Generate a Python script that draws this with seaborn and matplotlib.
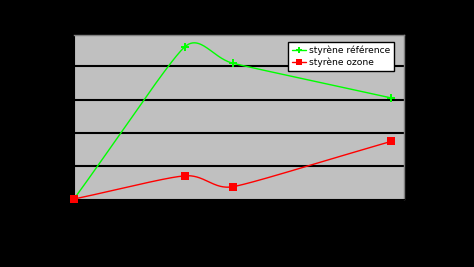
import numpy as np
import pandas as pd
import matplotlib
matplotlib.use("Agg")
import matplotlib.pyplot as plt
import seaborn as sns
from matplotlib.lines import Line2D

# data
temps = [0, 7, 10, 20]
styrene_reference = [0, 46, 41, 30.5]
styrene_ozone = [0, 7, 3.7, 17.4]
series_names = ["styrène référence", "styrène ozone"]

XMAX, YMAX = 20.8, 49.5
W_PX, H_PX = 330, 164


def smooth(xs, ys, n=50, k=0.4):
    # spreadsheet-style smoothed line, computed in screen-proportional space
    sx, sy = W_PX / XMAX, H_PX / YMAX
    P = np.column_stack([np.asarray(xs, float) * sx, np.asarray(ys, float) * sy])
    m = len(P)
    seg = [np.linalg.norm(P[i + 1] - P[i]) for i in range(m - 1)]
    tang, tlen = [], []
    for i in range(m):
        a = P[max(i - 1, 0)]
        b = P[min(i + 1, m - 1)]
        d = b - a
        tang.append(d / np.linalg.norm(d))
        near = [seg[j] for j in (i - 1, i) if 0 <= j < m - 1]
        tlen.append(min(near) * k)
    ox, oy = [], []
    t = np.linspace(0, 1, n)[:, None]
    for i in range(m - 1):
        p1, p2 = P[i], P[i + 1]
        c1 = p1 + tang[i] * tlen[i]
        c2 = p2 - tang[i + 1] * tlen[i + 1]
        b = (1 - t) ** 3 * p1 + 3 * (1 - t) ** 2 * t * c1 + 3 * (1 - t) * t ** 2 * c2 + t ** 3 * p2
        ox.extend(b[:, 0] / sx)
        oy.extend(b[:, 1] / sy)
    return ox, oy


sns.set_style("white")
fig = plt.figure(figsize=(4.74, 2.67), dpi=100, facecolor="black")
ax = fig.add_axes([74 / 474, 68 / 267, W_PX / 474, H_PX / 267])
ax.set_facecolor("#C0C0C0")

colors = ["#00FF00", "#FF0000"]
markers = ["P", "s"]
msizes = [28, 30]
for name, vals, c, m, ms in zip(series_names, [styrene_reference, styrene_ozone], colors, markers, msizes):
    sx, sy = smooth(temps, vals)
    sns.lineplot(x=sx, y=sy, ax=ax, color=c, lw=1.0, sort=False, estimator=None)
    sns.scatterplot(x=temps, y=vals, ax=ax, color=c, marker=m, s=ms, linewidth=0, zorder=5, clip_on=False)

ax.set_xlim(0, XMAX)
ax.set_ylim(0, YMAX)
ax.set_yticks([10, 20, 30, 40])
ax.yaxis.grid(True, color="black", lw=1.5)
ax.set_axisbelow(True)
ax.tick_params(colors="black", length=0, labelsize=7)
ax.set_xticklabels([])
ax.set_yticklabels([])
for side in ["top", "right"]:
    ax.spines[side].set_color("#808080")
    ax.spines[side].set_linewidth(1.0)
for side in ["left", "bottom"]:
    ax.spines[side].set_color("black")

handles = [
    Line2D([0], [0], color=colors[0], lw=1.0, marker="P", markersize=4.5, markeredgewidth=0),
    Line2D([0], [0], color=colors[1], lw=1.0, marker="s", markersize=4.5, markeredgewidth=0),
]
leg = ax.legend(handles, series_names, loc="upper right", bbox_to_anchor=(0.97, 0.96),
                fontsize=6.6, frameon=True, fancybox=False, framealpha=1, edgecolor="black",
                borderpad=0.4, handlelength=1.6, handletextpad=0.3, labelspacing=0.35,
                borderaxespad=0)
leg.get_frame().set_linewidth(1.0)
for t in leg.get_texts():
    t.set_color("black")

fig.savefig("out.png", dpi=100, facecolor="black")
